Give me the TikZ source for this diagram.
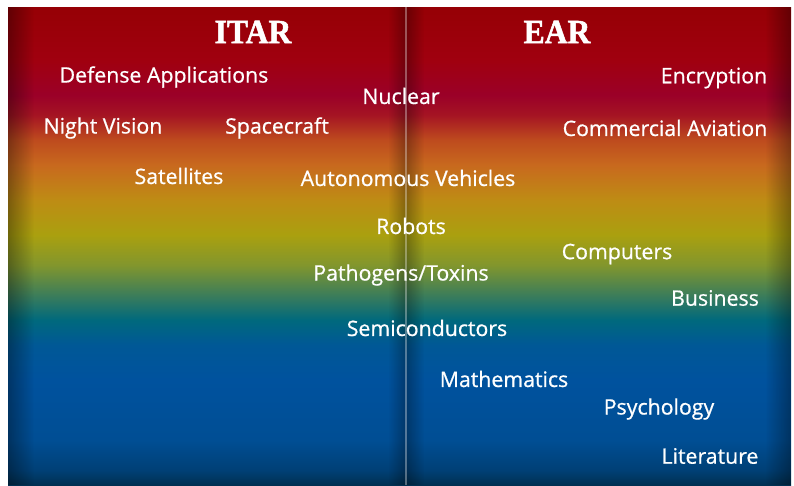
\documentclass[tikz,border=0pt]{standalone}
\usepackage{fontspec}
\setmainfont{Open Sans}
\newfontfamily\lblfont[FakeBold=0.7]{Open Sans}
\newfontfamily\headfont[FakeBold=1.6, FakeStretch=0.93]{Liberation Serif Bold}
\usetikzlibrary{fadings}

% colour stops of the background band, bottom to top
\definecolor{s01}{RGB}{0,48,82}
\definecolor{s02}{RGB}{0,64,118}
\definecolor{s03}{RGB}{0,78,148}
\definecolor{s04}{RGB}{0,82,158}
\definecolor{s05}{RGB}{0,88,150}
\definecolor{s06}{RGB}{0,105,125}
\definecolor{s07}{RGB}{60,125,90}
\definecolor{s08}{RGB}{130,150,45}
\definecolor{s09}{RGB}{170,160,15}
\definecolor{s10}{RGB}{190,140,20}
\definecolor{s11}{RGB}{200,105,30}
\definecolor{s12}{RGB}{190,75,30}
\definecolor{s13}{RGB}{165,20,35}
\definecolor{s14}{RGB}{155,0,40}
\definecolor{s15}{RGB}{160,0,15}
\definecolor{s16}{RGB}{150,0,5}

\pgfdeclareverticalshading{spectrum}{100bp}{%
  color(0bp)=(s01); color(25bp)=(s01); color(26.57bp)=(s02);
  color(29.71bp)=(s03); color(35.98bp)=(s04); color(39.64bp)=(s05);
  color(42.26bp)=(s06); color(44.87bp)=(s07); color(48.01bp)=(s08);
  color(51.15bp)=(s09); color(54.81bp)=(s10); color(58.47bp)=(s11);
  color(61.09bp)=(s12); color(63.70bp)=(s13); color(65.79bp)=(s14);
  color(69.46bp)=(s15); color(75bp)=(s16); color(100bp)=(s16)}

\tikzfading[name=fadeR, left color=transparent!0, right color=transparent!100]
\tikzfading[name=fadeL, left color=transparent!100, right color=transparent!0]

\tikzset{
  lbl/.style={text=white, inner sep=0pt, font=\lblfont\fontsize{21.3}{22}\selectfont},
  head/.style={text=white, inner sep=0pt, font=\headfont\fontsize{34}{34}\selectfont},
}

\begin{document}
\begin{tikzpicture}[x=1pt, y=-1pt]
  \useasboundingbox (0,0) rectangle (794,485);
  \fill[white] (0,0) rectangle (794,485);

  % background band
  \shade[shading=spectrum] (8,7) rectangle (791,485);

  % darkened side edges
  \fill[black, opacity=0.35, path fading=fadeR] (8,7) rectangle (34,485);
  \fill[black, opacity=0.35, path fading=fadeL] (765,7) rectangle (791,485);

  % central divider with its shadow
  \fill[black, opacity=0.3, path fading=fadeL] (388,7) rectangle (406,485);
  \fill[black, opacity=0.3, path fading=fadeR] (406,7) rectangle (424,485);
  \coordinate (divtop) at (406,7);
  \coordinate (divbot) at (406,485);
  \draw[white, opacity=0.33, line width=2.2pt] (divtop) -- (divbot);

  % column headings
  \node[head] (itar) at (253,32) {ITAR};
  \node[head] (ear)  at (557,32) {EAR};

  % controlled items
  \node[lbl] (def)  at (164,77)  {Defense Applications};
  \node[lbl] (nuc)  at (401,96)  {Nuclear};
  \node[lbl] (enc)  at (714,78)  {Encryption};
  \node[lbl] (nv)   at (103,128) {Night Vision};
  \node[lbl] (sc)   at (277,128) {Spacecraft};
  \node[lbl] (ca)   at (665,128) {Commercial Aviation};
  \node[lbl] (sat)  at (179,176) {Satellites};
  \node[lbl] (av)   at (408,178) {Autonomous Vehicles};
  \node[lbl] (rob)  at (411,226) {Robots};
  \node[lbl] (comp) at (617,254) {Computers};
  \node[lbl] (path) at (401,275) {Pathogens/Toxins};
  \node[lbl] (bus)  at (715,298) {Business};
  \node[lbl] (semi) at (427,328) {Semiconductors};
  \node[lbl] (math) at (504,379) {Mathematics};
  \node[lbl] (psy)  at (659,409) {Psychology};
  \node[lbl] (lit)  at (710,456) {Literature};
\end{tikzpicture}
\end{document}
